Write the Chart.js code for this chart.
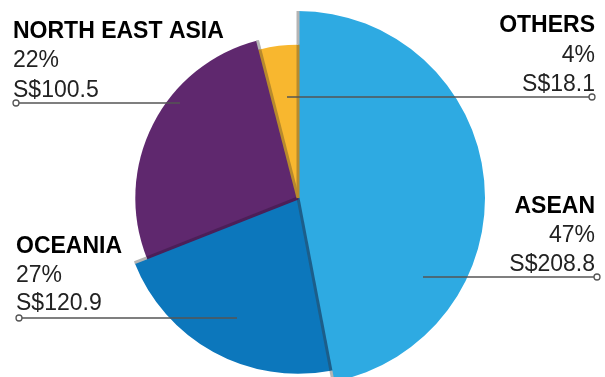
<!DOCTYPE html>
<html>
<head>
<meta charset="utf-8">
<script src="https://cdn.jsdelivr.net/npm/chart.js@4"></script>
<style>
  html, body { margin: 0; padding: 0; background: #fff; overflow: hidden; }
  #wrap { position: relative; width: 605px; height: 386px; }
</style>
</head>
<body>
<div id="wrap"><canvas id="pie"></canvas></div>
<script>
// Categories, in drawing order (clockwise from 12 o'clock)
const regions = ['ASEAN', 'OCEANIA', 'NORTH EAST ASIA', 'OTHERS'];
// Printed labels
const shareLabels = ['47%', '27%', '22%', '4%'];
const amountLabels = ['S$208.8', 'S$120.9', 'S$100.5', 'S$18.1'];
// Slice sizes as drawn in the picture (the source draws Oceania/NEA arcs swapped)
const sliceShares = [47, 22, 27, 4];

const sliceColors = ['#2eaae2', '#0c77bc', '#5f286e', '#f8b72f'];
const edgeColors = ['#b88a2c', '#1c5e8a', '#4b1f58', '#b88a2c'];
const radiusScale = [1, 0.94, 0.87, 0.82];

// label blocks: text anchor, alignment, baselines, leader line
const callouts = [
  { x: 595, align: 'right', ys: [213, 242, 271], line: [423, 597, 277] },
  { x: 16, align: 'left', ys: [253, 282, 310], line: [237, 19, 318] },
  { x: 13, align: 'left', ys: [38, 67, 97], line: [180, 16, 103] },
  { x: 595, align: 'right', ys: [32, 62, 91], line: [287, 592, 97] }
];

const sliceShape = {
  id: 'sliceShape',
  beforeDatasetsDraw(chart) {
    const meta = chart.getDatasetMeta(0);
    const base = meta.controller.outerRadius;
    meta.data.forEach((arc, i) => { arc.outerRadius = base * radiusScale[i]; });
  },
  afterDatasetsDraw(chart) {
    const ctx = chart.ctx;
    const arcs = chart.getDatasetMeta(0).data;
    const n = arcs.length;
    ctx.save();
    ctx.lineCap = 'butt';
    // boundary i sits at the start of slice i
    for (let i = 0; i < n; i++) {
      const a = arcs[i];
      const prev = arcs[(i - 1 + n) % n];
      const ang = a.startAngle;
      const rIn = Math.min(a.outerRadius, prev.outerRadius);
      const rOut = Math.max(a.outerRadius, prev.outerRadius);
      const cx = a.x, cy = a.y;
      const dx = Math.cos(ang), dy = Math.sin(ang);
      ctx.lineWidth = 3;
      ctx.strokeStyle = edgeColors[i];
      ctx.beginPath();
      ctx.moveTo(cx, cy);
      ctx.lineTo(cx + dx * rIn, cy + dy * rIn);
      ctx.stroke();
      ctx.strokeStyle = '#b4b4b4';
      ctx.beginPath();
      ctx.moveTo(cx + dx * rIn, cy + dy * rIn);
      ctx.lineTo(cx + dx * rOut, cy + dy * rOut);
      ctx.stroke();
    }
    ctx.restore();
  },
  afterDraw(chart) {
    const ctx = chart.ctx;
    ctx.save();
    callouts.forEach((c, i) => {
      const [x1, x2, y] = c.line;
      ctx.strokeStyle = '#555';
      ctx.lineWidth = 1.3;
      ctx.beginPath();
      ctx.moveTo(x1, y);
      ctx.lineTo(x2, y);
      ctx.stroke();
      ctx.beginPath();
      ctx.arc(x2, y, 3, 0, Math.PI * 2);
      ctx.fillStyle = '#fff';
      ctx.fill();
      ctx.stroke();

      ctx.textAlign = c.align;
      ctx.textBaseline = 'alphabetic';
      ctx.fillStyle = '#000';
      ctx.font = 'bold 23px "Liberation Sans", Arial, sans-serif';
      ctx.fillText(regions[i], c.x, c.ys[0]);
      ctx.fillStyle = '#222';
      ctx.font = '23px "Liberation Sans", Arial, sans-serif';
      ctx.fillText(shareLabels[i], c.x, c.ys[1]);
      ctx.fillText(amountLabels[i], c.x, c.ys[2]);
    });
    ctx.restore();
  }
};

new Chart(document.getElementById('pie'), {
  type: 'pie',
  data: {
    labels: regions,
    datasets: [{
      data: sliceShares,
      backgroundColor: sliceColors,
      borderWidth: 0
    }]
  },
  options: {
    responsive: true,
    maintainAspectRatio: false,
    animation: false,
    layout: { padding: { top: 11, bottom: 1, left: 111, right: 120 } },
    plugins: {
      legend: { display: false },
      tooltip: { enabled: false }
    }
  },
  plugins: [sliceShape]
});
</script>
</body>
</html>
